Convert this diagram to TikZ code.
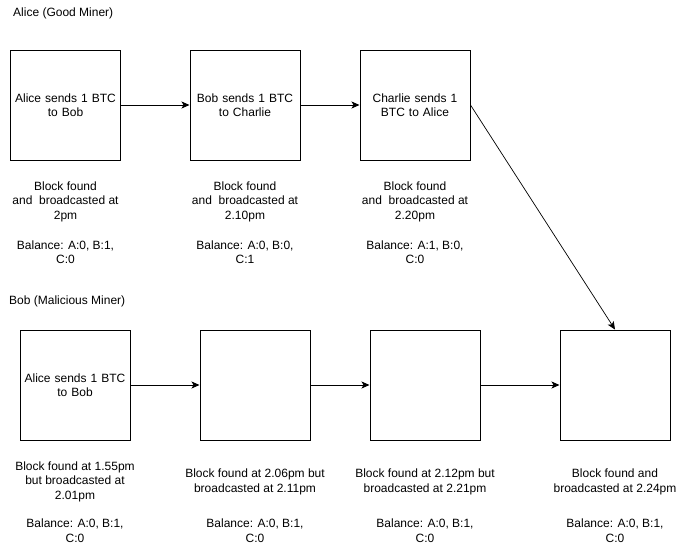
\documentclass[tikz,border=0pt]{standalone}
\usepackage{fontspec}
\setmainfont{Liberation Sans}
\usetikzlibrary{arrows.meta}
\begin{document}
\begin{tikzpicture}[x=1pt,y=-1pt,
  block/.style={draw,line width=1pt,minimum width=110pt,minimum height=110pt,inner sep=0pt,
    align=center,text width=104pt,font=\fontsize{12}{14.5}\selectfont},
  caption/.style={align=center,font=\fontsize{12}{14.5}\selectfont,inner sep=0pt},
  title/.style={anchor=west,font=\fontsize{12}{14.5}\selectfont,inner sep=0pt},
  link/.style={line width=1pt,-{Stealth[length=8pt,width=7pt,inset=2pt]}},
  slant/.style={line width=0.7pt,-{Stealth[length=8pt,width=7pt,inset=2pt]}}]
\useasboundingbox (0,0) rectangle (691,544);

% honest chain
\node[title] (tA) at (13,13) {Alice (Good Miner)};
\node[block] (a1) at (65.5,105) {Alice sends 1 BTC\\to Bob};
\node[block] (a2) at (245,105) {Bob sends 1 BTC\\to Charlie};
\node[block] (a3) at (415,105) {Charlie sends 1\\BTC to Alice};

\node[caption] (ca1) at (65.5,201.5) {Block found\\and\ \ broadcasted at\\2pm};
\node[caption] (ca2) at (245,201.5) {Block found\\and\ \ broadcasted at\\2.10pm};
\node[caption] (ca3) at (415,201.5) {Block found\\and\ \ broadcasted at\\2.20pm};
\node[caption] (ba1) at (65.5,252) {Balance: A:0, B:1,\\C:0};
\node[caption] (ba2) at (245,252) {Balance: A:0, B:0,\\C:1};
\node[caption] (ba3) at (415,252) {Balance: A:1, B:0,\\C:0};

% withheld chain
\node[title] (tB) at (9,301) {Bob (Malicious Miner)};
\node[block] (b1) at (75,385) {Alice sends 1 BTC\\to Bob};
\node[block] (b2) at (255,385) {};
\node[block] (b3) at (425,385) {};
\node[block] (b4) at (615,385) {};

\node[caption] (cb1) at (75,481.5) {Block found at 1.55pm\\but broadcasted at\\2.01pm};
\node[caption] (cb2) at (255,482) {Block found at 2.06pm but\\broadcasted at 2.11pm};
\node[caption] (cb3) at (425,482) {Block found at 2.12pm but\\broadcasted at 2.21pm};
\node[caption] (cb4) at (615,482) {Block found and\\broadcasted at 2.24pm};
\node[caption] (bb1) at (75,530.5) {Balance: A:0, B:1,\\C:0};
\node[caption] (bb2) at (255,530.5) {Balance: A:0, B:1,\\C:0};
\node[caption] (bb3) at (425,530.5) {Balance: A:0, B:1,\\C:0};
\node[caption] (bb4) at (615,530.5) {Balance: A:0, B:1,\\C:0};

% connectors
\draw[link] (a1.east) -- (a2.west);
\draw[link] (a2.east) -- (a3.west);
\draw[link] (b1.east) -- (b2.west);
\draw[link] (b2.east) -- (b3.west);
\draw[link] (b3.east) -- (b4.west);
\draw[slant] (a3.east) -- (b4.north);
\end{tikzpicture}
\end{document}
